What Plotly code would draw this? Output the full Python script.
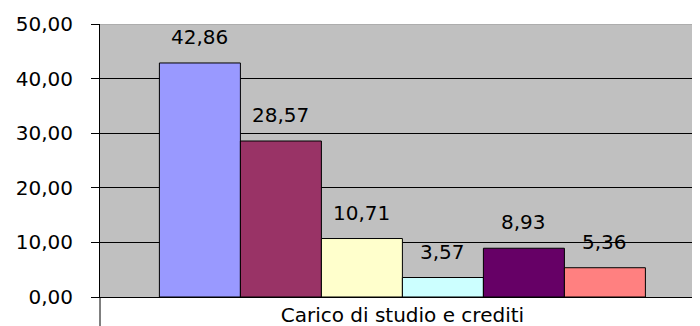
import plotly.graph_objects as go

category = ["Carico di studio e crediti"]
series_names = ["Serie 1", "Serie 2", "Serie 3", "Serie 4", "Serie 5", "Serie 6"]
values = [42.86, 28.57, 10.71, 3.57, 8.93, 5.36]
colors = ["#9999FF", "#993366", "#FFFFCC", "#CCFFFF", "#660066", "#FF8080"]
y_ticks = [0, 10, 20, 30, 40, 50]
y_ticktext = ["0,00", "10,00", "20,00", "30,00", "40,00", "50,00"]

# the page body adds an 8px offset, so the figure is 8px smaller than the window
BODY = 8
W, H = 700 - BODY, 326 - BODY
ML, MR, MT, MB = 100 - BODY, 0, 24 - BODY, 29
BARGAP = 0.19
X_RANGE = [-0.504, 0.496]
FONT = dict(family="DejaVu Sans, Arial, sans-serif", size=20, color="black")

fig = go.Figure()
for name, v, c in zip(series_names, values, colors):
    fig.add_trace(go.Bar(
        x=category, y=[v], name=name,
        marker=dict(color=c, line=dict(color="black", width=1)),
        hoverinfo="y",
    ))

plot_w = W - ML - MR
plot_h = H - MT - MB
n = len(values)
bar_px = plot_w / (X_RANGE[1] - X_RANGE[0]) * (1 - BARGAP) / n
for i, v in enumerate(values):
    fig.add_annotation(
        x=category[0], y=v, xref="x", yref="y",
        text=f"{v:.2f}".replace(".", ","),
        showarrow=False, yanchor="bottom",
        xshift=(i - (n - 1) / 2) * bar_px, yshift=12,
        font=FONT,
    )

# top border of plot area
fig.add_shape(type="line", xref="paper", yref="y", x0=0, x1=1, y0=50, y1=50,
              line=dict(color="#999999", width=1))
# category boundary tick below the left axis
fig.add_shape(type="line", xref="paper", yref="paper", x0=0, x1=0,
              y0=0, y1=-MB / plot_h,
              line=dict(color="black", width=1))

fig.update_layout(
    width=W, height=H,
    margin=dict(l=ML, r=MR, t=MT, b=MB),
    paper_bgcolor="white", plot_bgcolor="#C0C0C0",
    barmode="group", bargap=BARGAP, bargroupgap=0,
    showlegend=False,
    font=FONT,
    separators=",.",
)
fig.update_yaxes(
    range=[0, 50], tickvals=y_ticks, ticktext=y_ticktext,
    showgrid=True, gridcolor="black", gridwidth=1,
    showline=True, linecolor="black", linewidth=1,
    ticks="outside", ticklen=8, tickcolor="black",
    ticklabelstandoff=14,
    zeroline=False, tickfont=FONT, automargin=False,
)
fig.update_xaxes(
    range=X_RANGE,
    showline=True, linecolor="black", linewidth=1,
    ticks="", showgrid=False, tickfont=FONT, automargin=False,
    ticklabelstandoff=0,
)

fig.write_html("out.html")
